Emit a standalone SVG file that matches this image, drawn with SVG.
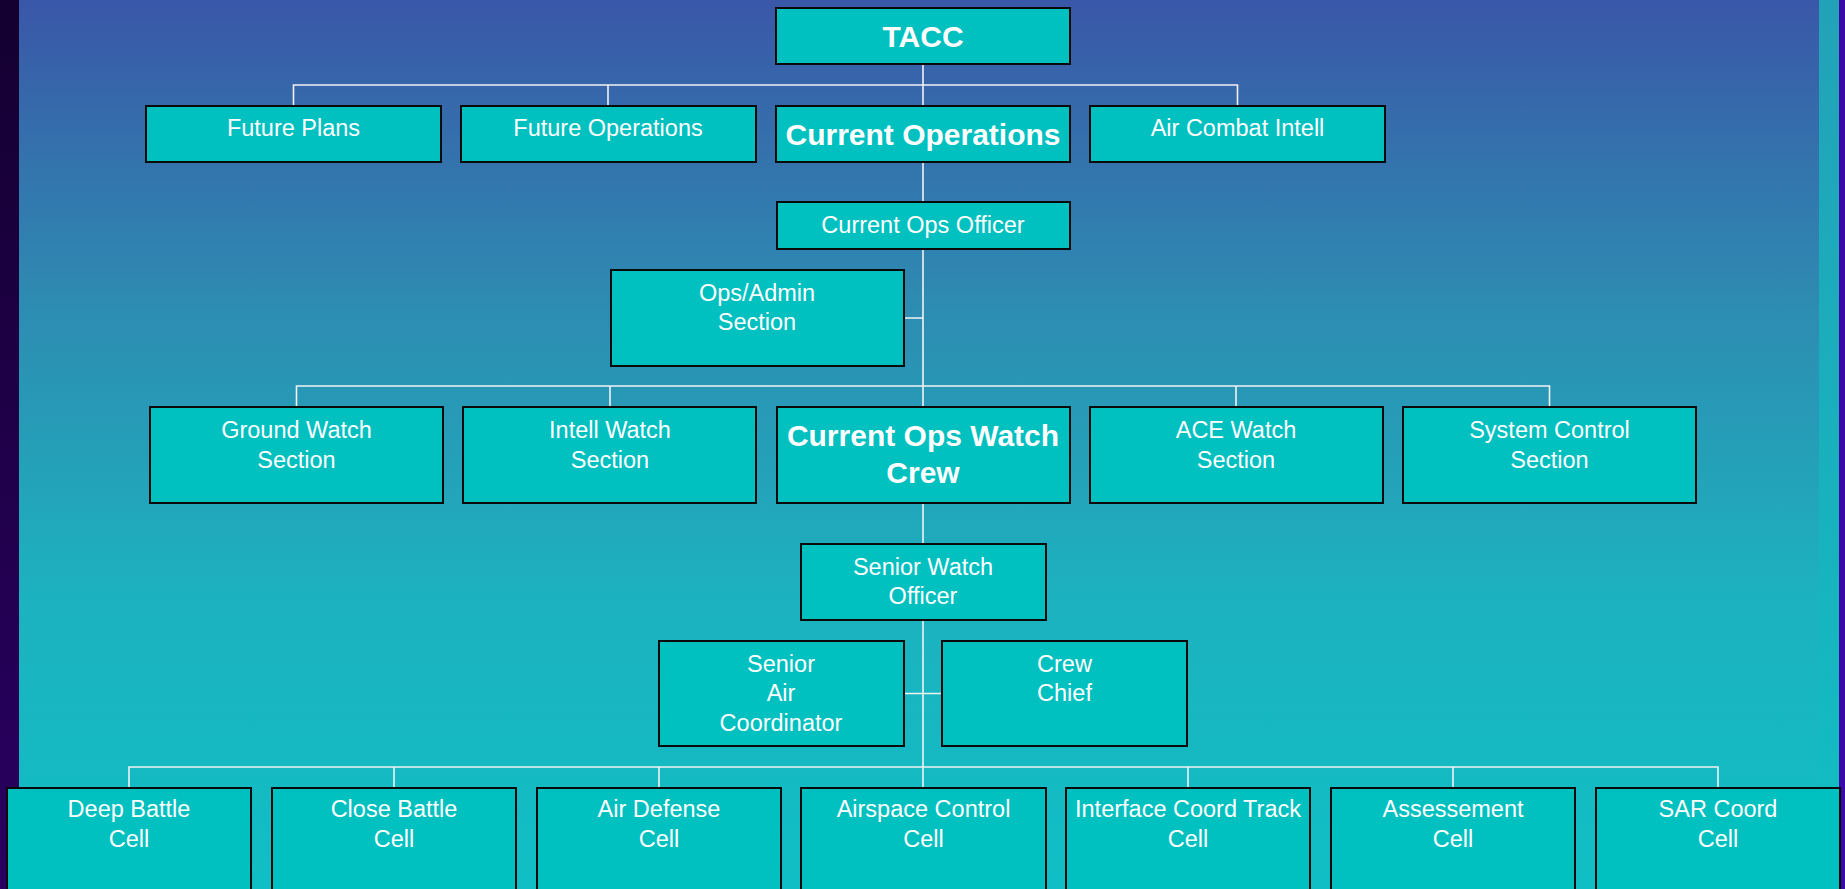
<svg xmlns="http://www.w3.org/2000/svg" width="1845" height="889" viewBox="0 0 1845 889">
<defs>
<linearGradient id="bg" x1="0" y1="0" x2="0" y2="1">
<stop offset="0" stop-color="#3A57A8"/>
<stop offset="0.33" stop-color="#2E8AB1"/>
<stop offset="0.66" stop-color="#1DB1BF"/>
<stop offset="1" stop-color="#0FBFC5"/>
</linearGradient>
<linearGradient id="lstrip" x1="0" y1="0" x2="0" y2="1">
<stop offset="0" stop-color="#140030"/>
<stop offset="1" stop-color="#2A0062"/>
</linearGradient>
<linearGradient id="rstrip" x1="0" y1="0" x2="0" y2="1">
<stop offset="0" stop-color="#22A2B8"/>
<stop offset="1" stop-color="#10BEC4"/>
</linearGradient>
<style>
.box{fill:#00C0C0;stroke:#0A0A0A;stroke-width:2}
.t{font-family:"Liberation Sans",Arial,Helvetica,sans-serif;font-size:23.5px;fill:#FFFFFF;text-anchor:middle}
.b{font-family:"Liberation Sans",Arial,Helvetica,sans-serif;font-size:30px;font-weight:bold;fill:#FFFFFF;text-anchor:middle}
.c{fill:none;stroke:#F2F2F2;stroke-width:1.6}
</style>
</defs>
<rect x="0" y="0" width="1845" height="889" fill="url(#bg)"/>
<rect x="0" y="0" width="19" height="889" fill="url(#lstrip)"/>
<rect x="1819" y="0" width="20" height="889" fill="url(#rstrip)"/>
<rect x="1839" y="0" width="6" height="889" fill="#3A0AA6"/>

<g id="connectors">
<path class="c" d="M923 64 V106"/>
<path class="c" d="M293.5 106 V85 H1237.5 V106 M608 85 V106"/>
<path class="c" d="M923 162 V202"/>
<path class="c" d="M923 249 V407 M904 318 H923"/>
<path class="c" d="M296.5 407 V386 H1549.5 V407 M610 386 V407 M1236 386 V407"/>
<path class="c" d="M923 503 V544"/>
<path class="c" d="M923 620 V788 M904 693.5 H942"/>
<path class="c" d="M129 788 V767 H1718 V788 M394 767 V788 M659 767 V788 M1188 767 V788 M1453 767 V788"/>
</g>

<g id="tacc"><rect class="box" x="776" y="8" width="294" height="56"/><text class="b" x="923" y="46.5">TACC</text></g>

<g id="future-plans"><rect class="box" x="146" y="106" width="295" height="56"/><text class="t" x="293.5" y="135.5">Future Plans</text></g>
<g id="future-operations"><rect class="box" x="461" y="106" width="295" height="56"/><text class="t" x="608" y="135.5">Future Operations</text></g>
<g id="current-operations"><rect class="box" x="776" y="106" width="294" height="56"/><text class="b" x="923" y="145">Current Operations</text></g>
<g id="air-combat-intell"><rect class="box" x="1090" y="106" width="295" height="56"/><text class="t" x="1237.5" y="135.5">Air Combat Intell</text></g>

<g id="current-ops-officer"><rect class="box" x="777" y="202" width="293" height="47"/><text class="t" x="923" y="233">Current Ops Officer</text></g>

<g id="ops-admin"><rect class="box" x="611" y="270" width="293" height="96"/><text class="t" x="757" y="300.5">Ops/Admin</text><text class="t" x="757" y="330">Section</text></g>

<g id="ground-watch"><rect class="box" x="150" y="407" width="293" height="96"/><text class="t" x="296.5" y="438.3">Ground Watch</text><text class="t" x="296.5" y="468.3">Section</text></g>
<g id="intell-watch"><rect class="box" x="463" y="407" width="293" height="96"/><text class="t" x="610" y="438.3">Intell Watch</text><text class="t" x="610" y="468.3">Section</text></g>
<g id="current-ops-watch-crew"><rect class="box" x="777" y="407" width="293" height="96"/><text class="b" x="923" y="445.5">Current Ops Watch</text><text class="b" x="923" y="483">Crew</text></g>
<g id="ace-watch"><rect class="box" x="1090" y="407" width="293" height="96"/><text class="t" x="1236" y="438.3">ACE Watch</text><text class="t" x="1236" y="468.3">Section</text></g>
<g id="system-control"><rect class="box" x="1403" y="407" width="293" height="96"/><text class="t" x="1549.5" y="438.3">System Control</text><text class="t" x="1549.5" y="468.3">Section</text></g>

<g id="senior-watch-officer"><rect class="box" x="801" y="544" width="245" height="76"/><text class="t" x="923" y="575">Senior Watch</text><text class="t" x="923" y="604">Officer</text></g>

<g id="senior-air-coordinator"><rect class="box" x="659" y="641" width="245" height="105"/><text class="t" x="781" y="671.7">Senior</text><text class="t" x="781" y="700.7">Air</text><text class="t" x="781" y="730.7">Coordinator</text></g>
<g id="crew-chief"><rect class="box" x="942" y="641" width="245" height="105"/><text class="t" x="1064.5" y="671.7">Crew</text><text class="t" x="1064.5" y="700.7">Chief</text></g>

<g id="deep-battle"><rect class="box" x="7" y="788" width="244" height="120"/><text class="t" x="129" y="817.3">Deep Battle</text><text class="t" x="129" y="847.3">Cell</text></g>
<g id="close-battle"><rect class="box" x="272" y="788" width="244" height="120"/><text class="t" x="394" y="817.3">Close Battle</text><text class="t" x="394" y="847.3">Cell</text></g>
<g id="air-defense"><rect class="box" x="537" y="788" width="244" height="120"/><text class="t" x="659" y="817.3">Air Defense</text><text class="t" x="659" y="847.3">Cell</text></g>
<g id="airspace-control"><rect class="box" x="801" y="788" width="245" height="120"/><text class="t" x="923.5" y="817.3">Airspace Control</text><text class="t" x="923.5" y="847.3">Cell</text></g>
<g id="interface-coord-track"><rect class="box" x="1066" y="788" width="244" height="120"/><text class="t" x="1188" y="817.3">Interface Coord Track</text><text class="t" x="1188" y="847.3">Cell</text></g>
<g id="assessement"><rect class="box" x="1331" y="788" width="244" height="120"/><text class="t" x="1453" y="817.3">Assessement</text><text class="t" x="1453" y="847.3">Cell</text></g>
<g id="sar-coord"><rect class="box" x="1596" y="788" width="244" height="120"/><text class="t" x="1718" y="817.3">SAR Coord</text><text class="t" x="1718" y="847.3">Cell</text></g>
</svg>
